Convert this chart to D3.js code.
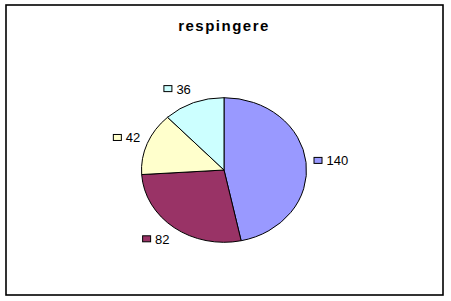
<!DOCTYPE html>
<html><head><meta charset="utf-8">
<script src="https://cdn.jsdelivr.net/npm/d3@7"></script>
<style>html,body{margin:0;padding:0;background:#fff;}</style>
</head><body>
<script>
const title = "respingere";
const categories = ["A", "B", "C", "D"];
const values = [140, 82, 42, 36];
const colors = ["#9999FF", "#993366", "#FFFFCC", "#CCFFFF"];

const W = 451, H = 301;
const svg = d3.select("body").append("svg").attr("width", W).attr("height", H);
svg.append("rect").attr("x", 6).attr("y", 5).attr("width", 437).attr("height", 290)
  .attr("fill", "#fff").attr("stroke", "#000").attr("stroke-width", 1.6);

svg.append("text").attr("x", 224).attr("y", 31).attr("text-anchor", "middle")
  .attr("font-family", "Liberation Sans, Arial, sans-serif").attr("font-weight", "bold")
  .attr("font-size", 15).attr("letter-spacing", 1.5).text(title);

const cx = 224, cy = 170, r = 82.5, sy = 72.3 / 82.5;
const pie = d3.pie().sort(null).value(d => d)(values);
const arc = d3.arc().innerRadius(0).outerRadius(r);
const g = svg.append("g").attr("transform", `translate(${cx},${cy}) scale(1,${sy})`);
g.selectAll("path").data(pie).join("path")
  .attr("d", arc).attr("fill", (d, i) => colors[i])
  .attr("stroke", "#000").attr("stroke-width", 1).attr("vector-effect", "non-scaling-stroke");

// labels with legend keys
const Rx = 90, Ry = 87;
const labels = svg.append("g");
pie.forEach((d, i) => {
  const a = (d.startAngle + d.endAngle) / 2;
  const ax = cx + Math.sin(a) * Rx;
  const ay = cy - Math.cos(a) * Ry;
  const right = Math.sin(a) >= 0;
  const t = labels.append("text").attr("y", ay + 4.5)
    .attr("font-family", "Liberation Sans, Arial, sans-serif").attr("font-size", 13)
    .text(String(values[i]));
  const tw = t.node().getComputedTextLength();
  let keyX;
  if (right) { keyX = ax; t.attr("x", ax + 13); }
  else { t.attr("x", ax - tw); keyX = ax - tw - 13; }
  labels.append("rect").attr("x", keyX + 0.5).attr("y", ay - 3.5).attr("width", 8).attr("height", 6)
    .attr("fill", colors[i]).attr("stroke", "#000").attr("stroke-width", 1);
});
</script>
</body></html>
